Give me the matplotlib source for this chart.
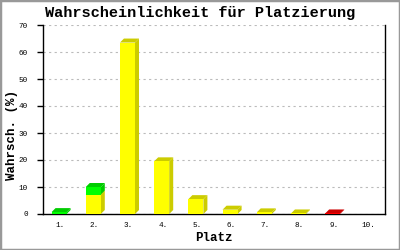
import matplotlib
matplotlib.use("Agg")
import matplotlib.pyplot as plt
from matplotlib.patches import Polygon, Rectangle

# ========================
# DATA
# ========================
places = ["1.", "2.", "3.", "4.", "5.", "6.", "7.", "8.", "9.", "10."]
base = [0.0, 7.2, 63.5, 19.5, 5.5, 1.6, 0.6, 0.2, 0.0, 0.0]
gain = [0.7, 2.8, 0.0, 0.0, 0.0, 0.0, 0.0, 0.0, 0.0, 0.0]
loss = [0.0, 0.0, 0.0, 0.0, 0.0, 0.0, 0.0, 0.0, 0.2, 0.0]

TITLE = "Wahrscheinlichkeit für Platzierung"
FONT = "Liberation Mono"

# colours: (front, side/top)
COL_BASE = ("#ffff00", "#cccc00")
COL_GAIN = ("#00ff00", "#00cc00")
COL_LOSS = ("#ff0000", "#cc0000")

fig = plt.figure(figsize=(4, 2.5), dpi=100)
fig.patch.set_facecolor("white")
fig.patches.append(Rectangle((0, 0), 1, 1, transform=fig.transFigure,
                             fill=False, edgecolor="#999999", linewidth=2.5))

ax = fig.add_axes([43 / 400, 36 / 250, 342 / 400, 189 / 250])
ax.set_xlim(0, 10)
ax.set_ylim(0, 70)

# 3D offset in data units (about 4 px right, 4 px up)
DX = 4 / 34.2
DY = 4 / 2.7
W = 0.44


def box(x0, y0, y1, cols):
    front, dark = cols
    ax.add_patch(Polygon([(x0 + W, y0), (x0 + W + DX, y0 + DY),
                          (x0 + W + DX, y1 + DY), (x0 + W, y1)],
                         closed=True, facecolor=dark, edgecolor="none", zorder=3))
    ax.add_patch(Polygon([(x0, y1), (x0 + DX, y1 + DY),
                          (x0 + W + DX, y1 + DY), (x0 + W, y1)],
                         closed=True, facecolor=dark, edgecolor="none", zorder=3))
    ax.add_patch(Rectangle((x0, y0), W, y1 - y0, facecolor=front,
                           edgecolor="none", zorder=4))


for i in range(len(places)):
    x0 = i + 0.5 - W / 2 - 0.03
    y = 0.0
    for vals, cols in ((base, COL_BASE), (gain, COL_GAIN), (loss, COL_LOSS)):
        v = vals[i]
        if v > 0:
            box(x0, y, y + v, cols)
            y += v

ax.set_yticks(range(0, 71, 10))
ax.set_xticks([i + 0.5 for i in range(len(places))])
ax.set_xticklabels(places)
ax.tick_params(axis="x", length=0, pad=6)
ax.tick_params(axis="y", length=4, width=1, pad=7)
for lab in ax.get_xticklabels() + ax.get_yticklabels():
    lab.set_fontfamily(FONT)
    lab.set_fontsize(5.5)

ax.grid(True, axis="y", color="#bbbbbb", linestyle=(0, (2, 3)), linewidth=0.8)
ax.set_axisbelow(True)
ax.spines["top"].set_visible(False)
for s in ("left", "bottom", "right"):
    ax.spines[s].set_linewidth(1)

ax.set_xlabel("Platz", fontfamily=FONT, fontweight="bold", fontsize=9, labelpad=2)
ax.set_ylabel("Wahrsch. (%)", fontfamily=FONT, fontweight="bold", fontsize=9)
ax.yaxis.set_label_coords(-0.072, 0.42)
fig.text(0.5, 0.948, TITLE, ha="center", va="center", fontfamily=FONT,
         fontweight="bold", fontsize=11)

fig.savefig("out.png", dpi=100)
